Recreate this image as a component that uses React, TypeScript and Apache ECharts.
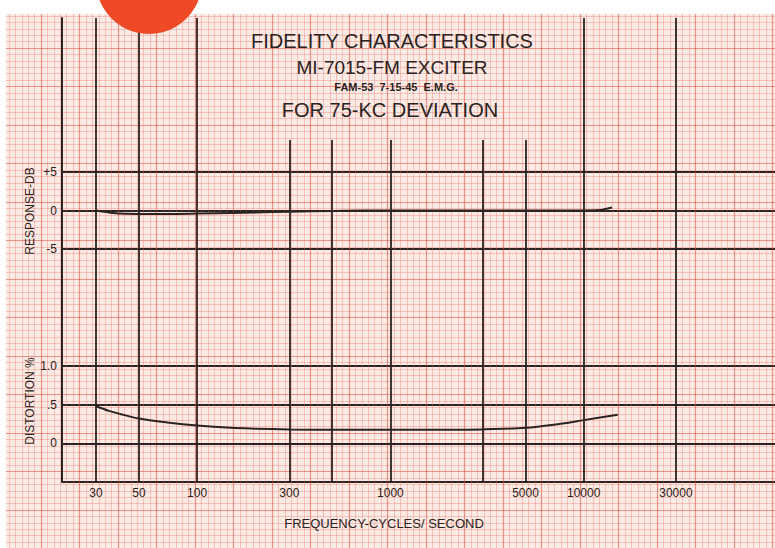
import React, { useEffect, useRef } from 'react';
import * as echarts from 'echarts';

// ---- text ----
const titleLines = ['FIDELITY CHARACTERISTICS', 'MI-7015-FM EXCITER', 'FAM-53  7-15-45  E.M.G.', 'FOR 75-KC DEVIATION'];
const responseName = 'RESPONSE-DB';
const distortionName = 'DISTORTION %';
const xAxisName = 'FREQUENCY-CYCLES/ SECOND';

// ---- data ----
const responseFreq = [30, 35, 40, 50, 70, 100, 150, 200, 300, 500, 1000, 2000, 5000, 10000, 12000, 14000];
const responseDb = [0, -0.25, -0.4, -0.45, -0.45, -0.4, -0.32, -0.25, -0.15, -0.05, 0, 0, 0, 0, 0.05, 0.4];
const distortionFreq = [30, 35, 40, 50, 70, 100, 150, 200, 300, 500, 1000, 2000, 3000, 5000, 7000, 10000, 15000];
const distortionPct = [0.48, 0.42, 0.38, 0.32, 0.27, 0.23, 0.2, 0.19, 0.18, 0.175, 0.175, 0.175, 0.18, 0.2, 0.24, 0.3, 0.37];

// ---- axes / ticks ----
const fullFreqLines = [30, 50, 100, 10000, 30000];
const shortFreqLines = [300, 500, 1000, 3000, 5000];
const freqTickLabels = [30, 50, 100, 300, 1000, 5000, 10000, 30000];
const responseTickValues = [-5, 0, 5];
const responseTickLabels = ['-5', '0', '+5'];
const distortionTickValues = [0, 0.5, 1];
const distortionTickLabels = ['0', '.5', '1.0'];

const DARK = '#2b2321';
const FONT = '"Liberation Sans", Arial, sans-serif';
const X_MIN = 20;
const X_MAX = 100000;

export default function App() {
  const ref = useRef<HTMLDivElement>(null);
  useEffect(() => {
    if (!ref.current) return;
    const chart = echarts.init(ref.current, undefined, { renderer: 'svg' });

    const hiddenLog = (gridIndex: number) => ({
      type: 'log', gridIndex, min: X_MIN, max: X_MAX, logBase: 10, show: false,
    });
    const paperAxis = (gridIndex: number, max: number) => ({
      type: 'value', gridIndex, min: 0, max, interval: 1, silent: true,
      axisLine: { show: false }, axisTick: { show: false }, axisLabel: { show: false },
      splitLine: { show: true, lineStyle: { color: 'rgba(218,72,60,0.55)', width: 1.2 } },
      minorTick: { show: false, splitNumber: 6 },
      minorSplitLine: { show: true, lineStyle: { color: 'rgba(232,105,95,0.32)', width: 1 } },
    });

    const option: any = {
      animation: false,
      backgroundColor: '#fcebe5',
      grid: [
        { left: 2.5, top: 9.5, width: 808.5, height: 577.5, outerBoundsMode: 'none' },
        { left: 62, top: 172, width: 715, height: 77, outerBoundsMode: 'none' },
        { left: 62, top: 366, width: 715, height: 116, outerBoundsMode: 'none' },
        { left: 62, top: 18, width: 715, height: 464, outerBoundsMode: 'none' },
      ],
      xAxis: [
        paperAxis(0, 21),
        hiddenLog(1),
        {
          type: 'log', gridIndex: 2, min: X_MIN, max: X_MAX, logBase: 10,
          axisLine: { show: true, lineStyle: { color: DARK, width: 2 } },
          axisTick: { show: false }, axisLabel: { show: false }, splitLine: { show: false },
          minorTick: { show: false }, minorSplitLine: { show: false },
        },
        hiddenLog(3),
      ],
      yAxis: [
        paperAxis(0, 15),
        {
          type: 'value', gridIndex: 1, min: responseTickValues[0], max: responseTickValues[2], interval: 5,
          axisLine: { show: false }, axisTick: { show: false },
          splitLine: { show: true, lineStyle: { color: DARK, width: 1.8 } },
          axisLabel: {
            margin: 5, color: DARK, fontSize: 12, fontFamily: FONT,
            formatter: (v: number) => {
              const i = responseTickValues.indexOf(v);
              return i >= 0 ? responseTickLabels[i] : '';
            },
          },
        },
        {
          type: 'value', gridIndex: 2, min: -0.5, max: 1, interval: 0.5,
          axisLine: { show: false }, axisTick: { show: false },
          splitLine: { show: true, lineStyle: { color: DARK, width: 1.8 } },
          axisLabel: {
            margin: 5, color: DARK, fontSize: 12, fontFamily: FONT,
            formatter: (v: number) => {
              const i = distortionTickValues.findIndex((t) => Math.abs(t - v) < 1e-9);
              return i >= 0 ? distortionTickLabels[i] : '';
            },
          },
        },
        {
          type: 'value', gridIndex: 3, min: 0, max: 1,
          axisLine: { show: true, onZero: false, lineStyle: { color: DARK, width: 2 } },
          axisTick: { show: false }, axisLabel: { show: false }, splitLine: { show: false },
        },
      ],
      series: [
        {
          type: 'line', xAxisIndex: 3, yAxisIndex: 3, data: [], silent: true,
          markLine: {
            silent: true, symbol: ['none', 'none'], animation: false,
            label: { show: false },
            lineStyle: { color: DARK, width: 1.8, type: 'solid' },
            emphasis: { disabled: true },
            data: [
              ...fullFreqLines.map((f) => [{ coord: [f, 0] }, { coord: [f, 1] }]),
              ...shortFreqLines.map((f) => [{ coord: [f, 0] }, { coord: [f, 0.737] }]),
            ],
          },
        },
        {
          name: 'Response', type: 'line', xAxisIndex: 1, yAxisIndex: 1,
          data: responseFreq.map((f, i) => [f, responseDb[i]]),
          showSymbol: false, smooth: 0.3, silent: true, clip: false,
          lineStyle: { color: DARK, width: 2 },
        },
        {
          name: 'Distortion', type: 'line', xAxisIndex: 2, yAxisIndex: 2,
          data: distortionFreq.map((f, i) => [f, distortionPct[i]]),
          showSymbol: false, smooth: 0.3, silent: true, clip: false,
          lineStyle: { color: DARK, width: 2 },
        },
        {
          type: 'scatter', xAxisIndex: 2, yAxisIndex: 2, silent: true, clip: false,
          symbolSize: 1, itemStyle: { opacity: 0 },
          data: freqTickLabels.map((f) => [f, -0.5]),
          label: {
            show: true, position: 'bottom', distance: 4, opacity: 1,
            color: DARK, fontSize: 12, fontFamily: FONT, textBorderWidth: 0,
            formatter: (p: any) => String(p.value[0]),
          },
        },
      ],
      graphic: [
        { type: 'rect', z: 100, silent: true, shape: { x: 0, y: 0, width: 775, height: 14 }, style: { fill: '#ffffff' } },
        { type: 'rect', z: 100, silent: true, shape: { x: 0, y: 0, width: 6, height: 548 }, style: { fill: '#ffffff' } },
        { type: 'circle', z: 101, silent: true, shape: { cx: 149, cy: -19, r: 53 }, style: { fill: '#ee4a26' } },
        { type: 'text', z: 102, x: 392, y: 41, style: { text: titleLines[0], fill: DARK, font: `20px ${FONT}`, textAlign: 'center', textVerticalAlign: 'middle' } },
        { type: 'text', z: 102, x: 392, y: 67, style: { text: titleLines[1], fill: DARK, font: `19px ${FONT}`, textAlign: 'center', textVerticalAlign: 'middle' } },
        { type: 'text', z: 102, x: 396, y: 87, style: { text: titleLines[2], fill: DARK, font: `bold 11px ${FONT}`, textAlign: 'center', textVerticalAlign: 'middle' } },
        { type: 'text', z: 102, x: 390, y: 110, style: { text: titleLines[3], fill: DARK, font: `20px ${FONT}`, textAlign: 'center', textVerticalAlign: 'middle' } },
        { type: 'text', z: 102, x: 30, y: 211, rotation: Math.PI / 2, style: { text: responseName, fill: DARK, font: `12px ${FONT}`, textAlign: 'center', textVerticalAlign: 'middle' } },
        { type: 'text', z: 102, x: 30, y: 401, rotation: Math.PI / 2, style: { text: distortionName, fill: DARK, font: `12px ${FONT}`, textAlign: 'center', textVerticalAlign: 'middle' } },
        { type: 'text', z: 102, x: 384, y: 523, style: { text: xAxisName, fill: DARK, font: `13px ${FONT}`, textAlign: 'center', textVerticalAlign: 'middle' } },
      ],
    };
    chart.setOption(option);
    return () => chart.dispose();
  }, []);

  return <div ref={ref} style={{ position: 'fixed', left: 0, top: 0, width: 775, height: 548 }} />;
}
